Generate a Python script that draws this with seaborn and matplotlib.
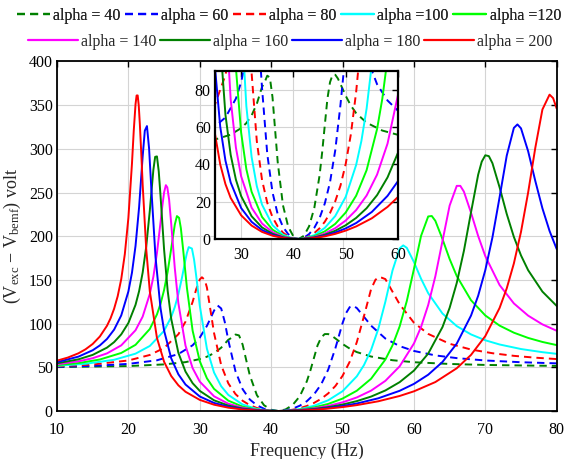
import pandas as pd
import matplotlib
matplotlib.use("Agg")
import matplotlib.pyplot as plt
import seaborn as sns
from matplotlib.lines import Line2D

# ---------------- data ----------------
labels = ["alpha = 40", "alpha = 60", "alpha = 80", "alpha =100", "alpha =120",
          "alpha = 140", "alpha = 160", "alpha = 180", "alpha = 200"]
colors = ["#008000", "#0000FF", "#FF0000", "#00FFFF", "#00FF00",
          "#FF00FF", "#008000", "#0000FF", "#FF0000"]
is_dashed = [True, True, True, False, False, False, False, False, False]

freq_a40 = [10, 20, 25, 28, 30, 31, 32, 33, 34, 34.5, 35, 35.5, 36, 36.5, 37, 38, 39, 40, 41,
            42, 43, 44, 45, 45.5, 46, 46.5, 47, 47.5, 48, 48.5, 49, 50, 51, 52, 54, 57, 60,
            65, 70, 75, 80]
volt_a40 = [50.2, 51.4, 53.3, 55.9, 59.4, 62.1, 66.2, 72.4, 81.5, 84.0, 87.5, 86.5, 76.0, 58.5,
            41.1, 18.1, 6.6, 1.4, 0, 1.7, 6.8, 16.7, 34.0, 46.5, 60.9, 75.1, 84.0, 88.0, 88.0,
            86.0, 83.0, 76.7, 71.4, 67.4, 62.3, 58.1, 55.8, 53.8, 52.7, 52.1, 51.6]

freq_a60 = [10, 15, 20, 24, 27, 29, 30, 31, 31.5, 32, 32.5, 33, 33.5, 34, 35, 36, 37, 38, 39,
            40, 41, 42, 43, 44, 45, 46, 47, 48, 49, 50, 50.5, 51, 51.5, 52, 53, 54, 56, 58,
            60, 63, 66, 70, 75, 80]
volt_a60 = [50.6, 51.6, 53.9, 58.0, 65.1, 75.2, 84.0, 97.4, 106.0, 114.9, 120.7, 117.3, 101.9,
            80.8, 45.5, 25.0, 13.2, 6.5, 2.6, 0.57, 0, 0.69, 2.64, 6.02, 11.2, 19.0, 30.4, 47.5,
            71.9, 100.5, 112.1, 118.8, 120.3, 117.8, 107.8, 97.6, 82.9, 74.2, 68.7, 63.6, 60.5,
            57.8, 55.8, 54.5]

freq_a80 = [10, 15, 20, 23, 25, 27, 28, 29, 29.5, 30, 30.3, 30.7, 31, 31.5, 32, 33, 34, 35, 36,
            37, 38, 39, 40, 41, 42, 43, 44, 45, 46, 47, 48, 49, 50, 51, 52, 53, 54, 54.6, 55,
            55.5, 56, 57, 58, 60, 62, 65, 68, 71, 74, 77, 80]
volt_a80 = [51.1, 53.2, 57.8, 64.1, 72.1, 87.8, 102.2, 124.9, 139.3, 150.5, 153.0, 150.0, 141.3,
            115.2, 89.1, 52.4, 31.6, 19.4, 11.7, 6.7, 3.4, 1.4, 0.32, 0, 0.39, 1.43, 3.19, 5.73,
            9.22, 13.9, 20.2, 28.6, 40.2, 56.3, 78.8, 108.5, 139.5, 150.0, 153.0, 152.5, 150.9,
            136.5, 122.1, 101.0, 88.2, 76.9, 70.3, 66.1, 63.1, 61.0, 59.4]

freq_a100 = [10, 14, 18, 21, 23, 25, 26, 26.5, 27, 27.5, 28, 28.2, 28.45, 28.9, 29.2, 29.5, 30,
             31, 32, 33, 34, 36, 38, 40, 41, 42, 44, 46, 48, 50, 52, 53, 54, 55, 56, 57, 58,
             58.5, 59, 60, 61, 62, 64, 66, 68, 70, 72, 75, 78, 80]
volt_a100 = [51.7, 54.0, 58.6, 65.6, 74.4, 91.7, 107.6, 118.9, 133.7, 152.3, 173.3, 180.9, 187.5,
             185.9, 173.3, 154.5, 120.5, 71.2, 44.0, 28.3, 18.4, 7.4, 2.3, 0.21, 0, 0.26, 2.1,
             5.95, 12.3, 22.6, 39.7, 52.5, 69.9, 93.7, 125.1, 160.8, 186.1, 189.5, 186.7, 170.5,
             151.3, 134.8, 111.5, 97.1, 87.6, 80.9, 76.1, 70.9, 67.3, 65.4]

freq_a120 = [10, 13, 16, 19, 21, 23, 24, 24.5, 25, 25.5, 26, 26.5, 26.8, 27.1, 27.35, 27.7,
             28.2, 29, 30, 31, 32, 34, 36, 38, 40, 41, 42, 44, 46, 48, 50, 52, 54, 56, 57, 58,
             59, 60, 61, 62, 62.5, 63, 64, 65, 66, 68, 70, 72, 74, 76, 78, 80]
volt_a120 = [52.5, 54.8, 58.9, 66.4, 75.7, 93.8, 110.5, 122.6, 138.4, 159.3, 185.9, 213.2, 223.0,
             221.0, 209.2, 182.2, 140.8, 91.8, 57.0, 37.4, 25.3, 11.8, 5.0, 1.6, 0.15, 0, 0.18,
             1.5, 4.1, 8.1, 14.2, 23.2, 36.9, 58.9, 75.1, 96.8, 125.8, 162.4, 200.4, 222.6,
             223.1, 217.6, 196.7, 173.9, 154.4, 126.7, 109.3, 97.7, 89.6, 83.6, 79.0, 75.4]

freq_a140 = [10, 13, 15, 17, 19, 21, 22, 23, 23.5, 24, 24.5, 24.75, 25, 25.25, 25.45, 25.7, 26,
             26.5, 27, 28, 29, 30, 32, 34, 36, 38, 40, 41, 42, 44, 46, 48, 50, 52, 54, 56, 58,
             60, 61, 62, 63, 64, 65, 66, 66.5, 67, 68, 69, 70, 72, 74, 76, 78, 80]
volt_a140 = [53.5, 56.8, 60.4, 65.9, 75.1, 92.4, 108.0, 133.9, 153.6, 180.7, 215.7, 234.3, 250.1,
             258.4, 255.9, 242.2, 214.1, 163.5, 123.4, 74.8, 49.0, 33.6, 16.8, 8.3, 3.7, 1.2,
             0.11, 0, 0.14, 1.1, 2.95, 5.8, 9.9, 15.5, 23.3, 34.5, 51.1, 77.2, 96.2, 121.3,
             154.1, 194.5, 235.0, 257.6, 257.6, 251.0, 226.8, 200.2, 177.2, 144.1, 123.1, 109.1,
             99.1, 91.8]

freq_a160 = [10, 13, 15, 17, 18, 19, 20, 21, 21.5, 22, 22.5, 23, 23.5, 23.75, 24, 24.25, 24.5,
             25, 25.5, 26, 27, 28, 29, 30, 32, 34, 36, 38, 40, 41, 42, 44, 46, 48, 50, 52, 54,
             56, 58, 60, 62, 64, 65, 66, 67, 68, 69, 69.5, 70, 70.5, 71, 72, 73, 74, 75, 76,
             78, 80]
volt_a160 = [54.6, 59.1, 64.2, 72.5, 78.8, 87.7, 100.7, 121.5, 137.1, 158.4, 188.2, 229.2, 276.0,
             290.8, 291.3, 274.3, 246.5, 184.8, 137.8, 105.4, 66.6, 45.1, 31.8, 23.0, 12.2, 6.2,
             2.8, 0.9, 0.09, 0, 0.1, 0.85, 2.28, 4.41, 7.37, 11.3, 16.5, 23.5, 33.0, 46.2, 65.7,
             96.0, 118.0, 146.5, 183.2, 227.5, 270.4, 285.3, 292.6, 291.6, 283.5, 255.9, 225.5,
             199.2, 178.0, 161.1, 136.6, 120.2]

freq_a180 = [10, 13, 15, 16, 17, 18, 19, 20, 20.5, 21, 21.5, 22, 22.3, 22.6, 22.9, 23.2, 23.8,
             24.5, 25, 26, 27, 28, 30, 32, 34, 36, 38, 40, 41, 42, 44, 46, 48, 50, 52, 55, 58,
             60, 62, 64, 66, 68, 69, 70, 71, 72, 73, 74, 74.5, 75, 76, 77, 78, 79, 80]
volt_a180 = [55.9, 62.2, 69.5, 75.0, 82.4, 93.1, 109.4, 136.8, 158.2, 188.9, 233.2, 291.4, 320.7,
             326.0, 300.2, 256.3, 176.0, 117.7, 92.0, 60.2, 42.0, 30.3, 16.6, 9.2, 4.8, 2.2,
             0.71, 0.07, 0, 0.08, 0.67, 1.78, 3.44, 5.69, 8.56, 14.5, 23.1, 31.0, 41.5, 56.1,
             77.1, 109.2, 131.9, 161.2, 198.7, 244.6, 292.1, 323.9, 327.9, 323.4, 297.2, 263.3,
             231.9, 206.0, 185.3]

freq_a200 = [10, 11.5, 13, 14, 15, 16, 17, 17.5, 18, 18.5, 19, 19.5, 20, 20.5, 20.75, 21, 21.15,
             21.3, 21.45, 21.6, 21.8, 22, 22.5, 23, 24, 25, 26, 27, 28, 30, 32, 34, 36, 38, 40,
             41, 42, 44, 46, 48, 50, 52, 55, 58, 60, 63, 66, 68, 70, 72, 73, 74, 75, 76, 77, 78,
             79, 79.5, 80]
volt_a200 = [57.6, 61.1, 66.0, 70.6, 76.7, 85.2, 97.5, 106.0, 117.0, 131.3, 151.0, 179.5, 221.0,
             283.0, 320.6, 351.0, 361.0, 361.1, 349.6, 329.0, 295.4, 259.0, 185.0, 137.0, 83.6,
             56.3, 40.0, 29.4, 22.0, 12.7, 7.2, 3.8, 1.75, 0.57, 0.06, 0, 0.07, 0.54, 1.43,
             2.74, 4.49, 6.73, 11.1, 17.2, 22.5, 33.1, 48.9, 64.2, 85.7, 117.9, 140.3, 168.8,
             205.0, 250.0, 301.0, 345.0, 362.0, 358.0, 346.0]

x_ticks = [10, 20, 30, 40, 50, 60, 70, 80]
y_ticks = [0, 50, 100, 150, 200, 250, 300, 350, 400]
inset_x_ticks = [30, 40, 50, 60]
inset_y_ticks = [0, 20, 40, 60, 80]

freqs = [freq_a40, freq_a60, freq_a80, freq_a100, freq_a120,
         freq_a140, freq_a160, freq_a180, freq_a200]
volts = [volt_a40, volt_a60, volt_a80, volt_a100, volt_a120,
         volt_a140, volt_a160, volt_a180, volt_a200]

rows = []
for lab, fs, vs in zip(labels, freqs, volts):
    for f, v in zip(fs, vs):
        rows.append({"label": lab, "freq": f, "volt": v})
df = pd.DataFrame(rows)

# ---------------- style ----------------
sns.set_style("white")
plt.rcParams["font.family"] = ["Liberation Serif", "DejaVu Serif"]
plt.rcParams["mathtext.fontset"] = "custom"
plt.rcParams["mathtext.rm"] = "Liberation Serif"
plt.rcParams["mathtext.it"] = "Liberation Serif:italic"

DASH = (3.8, 2.6)
palette = dict(zip(labels, colors))
dashes = {lab: (DASH if d else "") for lab, d in zip(labels, is_dashed)}

fig = plt.figure(figsize=(5.65, 4.59), dpi=100)


def draw(ax):
    sns.lineplot(data=df, x="freq", y="volt", hue="label", style="label",
                 hue_order=labels, style_order=labels, palette=palette,
                 dashes=dashes, estimator=None, sort=True, legend=False,
                 linewidth=1.4, ax=ax)
    ax.grid(True, color="#d4d4d4", linewidth=0.8)
    ax.set_axisbelow(True)
    ax.tick_params(direction="in", top=True, right=True, length=4, width=1.0,
                   labelsize=11.5, colors="black", pad=3)
    for s in ax.spines.values():
        s.set_color("black")
        s.set_linewidth(1.3)
    ax.set_xlabel("")
    ax.set_ylabel("")


ax = fig.add_axes([0.1009, 0.1046, 0.8844, 0.7616])
draw(ax)
ax.set_xlim(10, 80)
ax.set_ylim(0, 400)
ax.set_xticks(x_ticks)
ax.set_yticks(y_ticks)
ax.tick_params(axis="x", pad=8)
ax.set_xlabel("Frequency (Hz)", fontsize=13, labelpad=3)
ax.set_ylabel("(V$_{\\mathrm{exc}}$ \u2212 V$_{\\mathrm{bemf}}$) volt", fontsize=13, labelpad=4)

axin = fig.add_axes([0.3805, 0.4793, 0.3239, 0.366])
axin.set_facecolor("white")
draw(axin)
axin.set_xlim(25, 60)
axin.set_ylim(0, 90)
axin.set_xticks(inset_x_ticks)
axin.set_yticks(inset_y_ticks)
axin.tick_params(axis="x", pad=6)
for s in axin.spines.values():
    s.set_linewidth(1.6)

# ---------------- legend (two rows) ----------------
def handle(c, d):
    return Line2D([], [], color=c, lw=1.6, linestyle=(0, (3.6, 2.3)) if d else "-")

h1 = [handle(c, d) for c, d in zip(colors[:5], is_dashed[:5])]
h2 = [handle(c, d) for c, d in zip(colors[5:], is_dashed[5:])]
leg1 = fig.legend(h1, labels[:5], ncol=5, loc="center", bbox_to_anchor=(0.511, 0.966),
                  frameon=False, fontsize=11.5, handlelength=2.1, handletextpad=0.2,
                  columnspacing=0.25, borderpad=0, borderaxespad=0)
leg2 = fig.legend(h2, labels[5:], ncol=4, loc="center", bbox_to_anchor=(0.514, 0.9085),
                  frameon=False, fontsize=11.5, handlelength=3.1, handletextpad=0.2,
                  columnspacing=0.25, borderpad=0, borderaxespad=0)
fig.add_artist(leg1)

fig.savefig("out.png", dpi=100)
